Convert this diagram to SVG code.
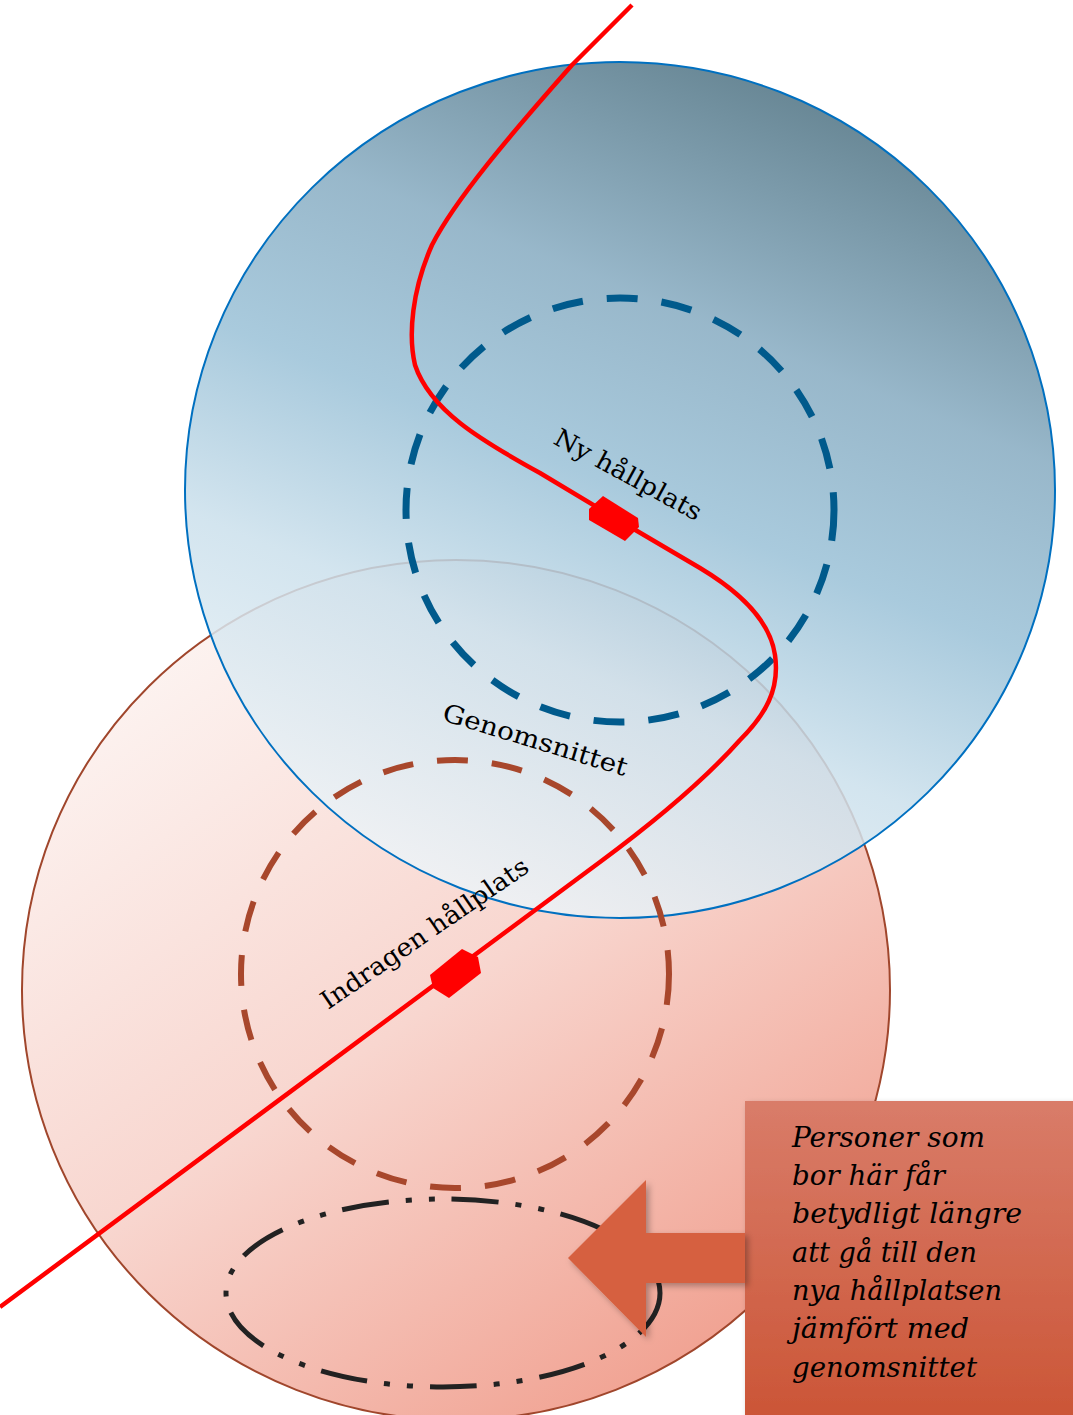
<svg xmlns="http://www.w3.org/2000/svg" width="1073" height="1415" viewBox="0 0 1073 1415">
<defs>
<linearGradient id="gBlue" gradientUnits="userSpaceOnUse" x1="800" y1="62" x2="450" y2="918">
<stop offset="0" stop-color="#476b7b"/>
<stop offset="0.3" stop-color="#86abc1"/>
<stop offset="0.5" stop-color="#9ac1d7"/>
<stop offset="0.7" stop-color="#cbe0ec"/>
<stop offset="1" stop-color="#f1f6f9"/>
</linearGradient>
<linearGradient id="gPink" x1="0.15" y1="0.05" x2="0.8" y2="0.98">
<stop offset="0" stop-color="#fdf6f4"/>
<stop offset="0.5" stop-color="#f8d6cf"/>
<stop offset="1" stop-color="#f09d8c"/>
</linearGradient>
<linearGradient id="gBox" x1="0" y1="0" x2="0" y2="1">
<stop offset="0" stop-color="#d97c69"/>
<stop offset="1" stop-color="#cb5536"/>
</linearGradient>
<filter id="shadow" x="-20%" y="-20%" width="140%" height="140%">
<feDropShadow dx="3" dy="3" stdDeviation="3" flood-color="#000" flood-opacity="0.3"/>
</filter>
<style>
.lbl{font-family:"DejaVu Serif","Liberation Serif",serif;font-size:25px;fill:#000}
.call{font-family:"DejaVu Serif","Liberation Serif",serif;font-style:italic;font-size:27px;fill:#000}
.route{fill:none;stroke:#ff0000;stroke-width:4.5;stroke-linejoin:round}
.stop{fill:#ff0000}
</style>
</defs>

<g id="area-old">
<ellipse cx="456" cy="990" rx="434" ry="430" fill="url(#gPink)" stroke="#a0462c" stroke-width="2"/>
</g>
<g id="area-new">
<ellipse cx="620" cy="490" rx="435" ry="428" fill="url(#gBlue)" fill-opacity="0.85" stroke="#0070c0" stroke-width="2"/>
</g>
<g id="radius-new">
<ellipse cx="620" cy="510" rx="214" ry="212" fill="none" stroke="#005a8c" stroke-width="7" stroke-dasharray="31 24"/>
</g>
<g id="radius-old">
<ellipse cx="455" cy="974" rx="214" ry="214" fill="none" stroke="#a8472c" stroke-width="6" stroke-dasharray="31 24"/>
</g>
<g id="far-zone">
<ellipse cx="443" cy="1293" rx="217" ry="94" fill="none" stroke="#222222" stroke-width="5" stroke-dasharray="47 17 6 17 6 17"/>
</g>

<g id="connectors">
<path class="route" d="M632,5 L572,65 C510,135 455,200 432,245 C412,290 408,335 415,365 C430,410 480,440 540,473 L615,518 L700,568 C740,592 770,620 775,655 C780,690 765,715 740,740 C700,785 650,825 600,862 L0,1307"/>
</g>

<g id="stop-new">
<polygon class="stop" points="589,509 603,496 638,518 639,527 625,541 589,520"/>
<text class="lbl" transform="translate(552,443) rotate(28.5)" textLength="164" lengthAdjust="spacingAndGlyphs">Ny hållplats</text>
</g>
<g id="stop-old">
<polygon class="stop" points="430,975 462,949 478,957 481,973 449,998 433,988"/>
<text class="lbl" transform="translate(328,1010) rotate(-34.5)" textLength="246" lengthAdjust="spacingAndGlyphs">Indragen hållplats</text>
</g>
<g id="label-avg">
<text class="lbl" transform="translate(441,720) rotate(17)" textLength="192" lengthAdjust="spacingAndGlyphs">Genomsnittet</text>
</g>

<g id="callout">
<rect x="745" y="1101" width="335" height="320" fill="url(#gBox)" filter="url(#shadow)"/>
<polygon points="568,1258 646,1180 646,1233 745,1233 745,1283 646,1283 646,1337" fill="#d6603f" filter="url(#shadow)"/>
<text class="call" x="792" y="1147" textLength="193" lengthAdjust="spacingAndGlyphs">Personer som</text>
<text class="call" x="792" y="1185" textLength="153" lengthAdjust="spacingAndGlyphs">bor här får</text>
<text class="call" x="792" y="1223" textLength="230" lengthAdjust="spacingAndGlyphs">betydligt längre</text>
<text class="call" x="792" y="1262" textLength="185" lengthAdjust="spacingAndGlyphs">att gå till den</text>
<text class="call" x="792" y="1300" textLength="210" lengthAdjust="spacingAndGlyphs">nya hållplatsen</text>
<text class="call" x="792" y="1338" textLength="177" lengthAdjust="spacingAndGlyphs">jämfört med</text>
<text class="call" x="792" y="1377" textLength="185" lengthAdjust="spacingAndGlyphs">genomsnittet</text>
</g>
</svg>
